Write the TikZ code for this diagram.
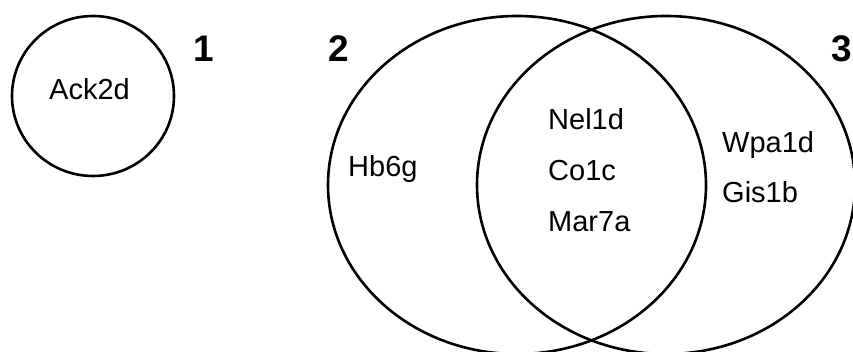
\documentclass[tikz,border=0pt]{standalone}
\usepackage{fontspec}
\setmainfont{Liberation Sans}
\begin{document}
\begin{tikzpicture}[x=1pt,y=-1pt,
  setline/.style={draw=black,line width=2.6pt},
  gene/.style={anchor=base west,inner sep=0pt,font=\fontsize{29}{34}\selectfont},
  setlabel/.style={anchor=base west,inner sep=0pt,font=\fontsize{37}{42}\selectfont\bfseries}]
  \useasboundingbox (0,0) rectangle (853,352);
  \clip (0,0) rectangle (853,352);

  % set 1: a lone circle
  \coordinate (c1) at (93,96);
  \draw[setline] (c1) ellipse [x radius=81, y radius=80];
  \node[gene] (ack) at (49,100) {Ack2d};
  \node[setlabel] (l1) at (193,62) {1};

  % sets 2 and 3: two overlapping ellipses
  \coordinate (c2) at (517,185);
  \coordinate (c3) at (666,185);
  \draw[setline] (c2) ellipse [x radius=189, y radius=169];
  \draw[setline] (c3) ellipse [x radius=189, y radius=169];
  \node[setlabel] (l2) at (328,62) {2};
  \node[setlabel] (l3) at (831,62) {3};

  % members
  \node[gene] (hb) at (348,177) {Hb6g};
  \node[gene] (nel) at (548,130) {Nel1d};
  \node[gene] (co) at (548,181) {Co1c};
  \node[gene] (mar) at (548,232) {Mar7a};
  \node[gene] (wpa) at (722,153) {Wpa1d};
  \node[gene] (gis) at (722,203) {Gis1b};
\end{tikzpicture}
\end{document}
